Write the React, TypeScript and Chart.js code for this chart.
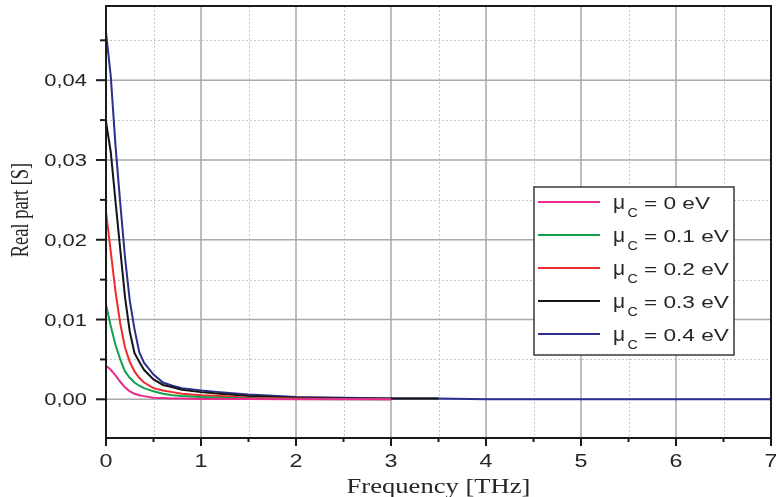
import React, { useEffect, useRef } from "react";
import { Chart, registerables } from "chart.js";

Chart.register(...registerables);

// Frequency axis samples [THz]
const frequency = [0, 0.05, 0.1, 0.15, 0.2, 0.25, 0.3, 0.35, 0.4, 0.5, 0.6, 0.7, 0.8, 1.0, 1.2, 1.5, 2.0, 2.5, 3.0, 3.5, 4, 5, 6, 7];

// Real part [S] for each chemical potential (null = curve not drawn there)
const mu00 = [0.0042, 0.0037, 0.003, 0.0022, 0.0015, 0.001, 0.0007, 0.0005, 0.0004, 0.0002, 0.00015, 0.0001, 0.0001, 0.00005, 0.00005, 0.00003, 0, 0, 0, null, null, null, null, null];
const mu01 = [0.0119, 0.0092, 0.0068, 0.005, 0.0035, 0.0027, 0.0021, 0.0017, 0.0014, 0.001, 0.0007, 0.0005, 0.0004, 0.0003, 0.0002, 0.0001, 0.00005, 0, 0, null, null, null, null, null];
const mu02 = [0.0235, 0.0185, 0.0135, 0.0095, 0.0065, 0.0047, 0.0035, 0.0027, 0.0021, 0.0014, 0.0011, 0.0009, 0.0007, 0.0005, 0.0004, 0.0002, 0.0001, 0.00005, 0, null, null, null, null, null];
const mu03 = [0.0348, 0.031, 0.0248, 0.0188, 0.0128, 0.0085, 0.0058, 0.0047, 0.0037, 0.0025, 0.0018, 0.0015, 0.0012, 0.0009, 0.0007, 0.0004, 0.0002, 0.0001, 0.0001, 0.0001, null, null, null, null];
const mu04 = [0.046, 0.0405, 0.0318, 0.0246, 0.0178, 0.0124, 0.0088, 0.0059, 0.0046, 0.0031, 0.0021, 0.0017, 0.0014, 0.0011, 0.0009, 0.0006, 0.0003, 0.0002, 0.0001, 0.0001, 0, 0, 0, 0];

const seriesValues = [mu00, mu01, mu02, mu03, mu04];
const seriesLabels = ["0 eV", "0.1 eV", "0.2 eV", "0.3 eV", "0.4 eV"];
const seriesColors = ["#ec2a8e", "#12a24e", "#ee2b2b", "#151515", "#2b2f8f"];

// Axis ticks and titles
const xMajorTicks = [0, 1, 2, 3, 4, 5, 6, 7];
const xMinorTicks = [0.5, 1.5, 2.5, 3.5, 4.5, 5.5, 6.5];
const yMajorTicks = [0, 0.01, 0.02, 0.03, 0.04];
const yMinorTicks = [0.005, 0.015, 0.025, 0.035, 0.045];
const xTitle = "Frequency [THz]";
const yTitle = "Real part [S]";

const xMin = 0;
const xMax = 7;
const yMin = -0.00485;
const yMax = 0.0493;

const SX = 1.33; // horizontal stretch of the original figure's lettering
const TEXT = "#262626";

function drawText(
  ctx: CanvasRenderingContext2D,
  text: string,
  x: number,
  y: number,
  font: string,
  align: CanvasTextAlign,
  baseline: CanvasTextBaseline,
  sx = SX,
  rotate = false
) {
  ctx.save();
  ctx.translate(x, y);
  ctx.scale(sx, 1);
  if (rotate) ctx.rotate(-Math.PI / 2);
  ctx.font = font;
  ctx.textAlign = align;
  ctx.textBaseline = baseline;
  ctx.fillStyle = TEXT;
  ctx.fillText(text, 0, 0);
  ctx.restore();
}

const customPlugin = {
  id: "customDecor",
  beforeDatasetsDraw(chart: any) {
    const { ctx, chartArea: a, scales } = chart;
    const x = scales.x;
    const y = scales.y;
    ctx.save();
    const line = (x1: number, y1: number, x2: number, y2: number) => {
      ctx.beginPath();
      ctx.moveTo(x1, y1);
      ctx.lineTo(x2, y2);
      ctx.stroke();
    };
    ctx.strokeStyle = "#c6c6c6";
    ctx.lineWidth = 1;
    ctx.setLineDash([2, 2]);
    xMinorTicks.forEach((v) => {
      const px = Math.round(x.getPixelForValue(v)) + 0.5;
      line(px, a.top, px, a.bottom);
    });
    yMinorTicks.forEach((v) => {
      const py = Math.round(y.getPixelForValue(v)) + 0.5;
      if (py > a.top && py < a.bottom) line(a.left, py, a.right, py);
    });
    ctx.setLineDash([]);
    ctx.strokeStyle = "#a9a9a9";
    ctx.lineWidth = 1.5;
    xMajorTicks.forEach((v) => {
      const px = x.getPixelForValue(v);
      line(px, a.top, px, a.bottom);
    });
    yMajorTicks.forEach((v) => {
      const py = y.getPixelForValue(v);
      line(a.left, py, a.right, py);
    });
    ctx.restore();
  },
  afterDatasetsDraw(chart: any) {
    const { ctx, chartArea: a, scales } = chart;
    const x = scales.x;
    const y = scales.y;
    ctx.save();
    ctx.strokeStyle = "#1a1a1a";
    ctx.lineWidth = 2;
    ctx.strokeRect(a.left, a.top, a.right - a.left, a.bottom - a.top);
    const line = (x1: number, y1: number, x2: number, y2: number) => {
      ctx.beginPath();
      ctx.moveTo(x1, y1);
      ctx.lineTo(x2, y2);
      ctx.stroke();
    };
    yMajorTicks.forEach((v) => {
      const py = y.getPixelForValue(v);
      line(a.left - 10, py, a.left, py);
    });
    yMinorTicks.forEach((v) => {
      const py = y.getPixelForValue(v);
      if (py > a.top && py < a.bottom) line(a.left - 6, py, a.left, py);
    });
    xMajorTicks.forEach((v) => {
      const px = x.getPixelForValue(v);
      line(px, a.bottom, px, a.bottom + 8);
    });
    xMinorTicks.forEach((v) => {
      const px = x.getPixelForValue(v);
      line(px, a.bottom, px, a.bottom + 4);
    });
    ctx.restore();

    // tick labels
    yMajorTicks.forEach((v) => {
      const py = y.getPixelForValue(v);
      drawText(ctx, v.toFixed(2).replace(".", ","), a.left - 19, py + 6, '16.5px "Liberation Sans"', "right", "alphabetic");
    });
    xMajorTicks.forEach((v) => {
      const px = x.getPixelForValue(v);
      drawText(ctx, String(v), px, a.bottom + 28.5, '17.5px "Liberation Sans"', "center", "alphabetic");
    });
    // axis titles
    drawText(ctx, xTitle, (a.left + a.right) / 2, 493, '20px "Liberation Serif"', "center", "alphabetic");
    drawText(ctx, yTitle, 28, (a.top + a.bottom) / 2 - 12, '18.5px "Liberation Serif"', "center", "alphabetic", SX, true);
  },
  afterDraw(chart: any) {
    const { ctx } = chart;
    ctx.save();
    const bx = 534, by = 187, bw = 200, bh = 168;
    ctx.fillStyle = "#ffffff";
    ctx.fillRect(bx, by, bw, bh);
    ctx.strokeStyle = "#3a3a3a";
    ctx.lineWidth = 1.5;
    ctx.strokeRect(bx, by, bw, bh);
    ctx.restore();
    seriesLabels.forEach((label, i) => {
      const ly = 202 + i * 33;
      ctx.save();
      ctx.strokeStyle = seriesColors[i];
      ctx.lineWidth = 2;
      ctx.beginPath();
      ctx.moveTo(538, ly);
      ctx.lineTo(600, ly);
      ctx.stroke();
      ctx.restore();
      drawText(ctx, "\u03bc", 613, ly + 7, '20px "Liberation Sans"', "left", "alphabetic", 1.05);
      drawText(ctx, "C", 627.5, ly + 15, '13px "Liberation Sans"', "left", "alphabetic", 1.1);
      drawText(ctx, "= " + label, 644, ly + 7, '17px "Liberation Sans"', "left", "alphabetic");
    });
  },
};

export default function App() {
  const canvasRef = useRef<HTMLCanvasElement | null>(null);

  useEffect(() => {
    document.body.style.margin = "0";
    const canvas = canvasRef.current;
    if (!canvas) return;
    const datasets = seriesValues.map((vals, i) => ({
      label: seriesLabels[i],
      data: frequency
        .map((f, j) => ({ x: f, y: vals[j] }))
        .filter((p) => p.y !== null),
      borderColor: seriesColors[i],
      backgroundColor: seriesColors[i],
      borderWidth: 2,
      pointRadius: 0,
      tension: 0,
      fill: false,
    }));
    const zeroPad = (scale: any) => {
      scale.paddingTop = 0;
      scale.paddingBottom = 0;
      scale.paddingLeft = 0;
      scale.paddingRight = 0;
    };
    const chart = new Chart(canvas, {
      type: "line",
      data: { datasets },
      options: {
        animation: false,
        responsive: false,
        maintainAspectRatio: false,
        layout: { padding: { top: 6, right: 5, left: 0, bottom: 0 } },
        plugins: { legend: { display: false }, tooltip: { enabled: false } },
        scales: {
          x: {
            type: "linear",
            min: xMin,
            max: xMax,
            afterBuildTicks: (scale: any) => {
              scale.ticks = xMajorTicks.map((v) => ({ value: v }));
            },
            afterFit: (scale: any) => {
              scale.height = 59;
              zeroPad(scale);
            },
            grid: { display: false, drawTicks: false },
            border: { display: false },
            ticks: { display: false },
          },
          y: {
            type: "linear",
            min: yMin,
            max: yMax,
            afterBuildTicks: (scale: any) => {
              scale.ticks = yMajorTicks.map((v) => ({ value: v }));
            },
            afterFit: (scale: any) => {
              scale.width = 106;
              zeroPad(scale);
            },
            grid: { display: false, drawTicks: false },
            border: { display: false },
            ticks: { display: false },
          },
        },
      },
      plugins: [customPlugin],
    });
    return () => chart.destroy();
  }, []);

  return (
    <div style={{ width: 776, height: 497 }}>
      <canvas ref={canvasRef} width={776} height={497} />
    </div>
  );
}
